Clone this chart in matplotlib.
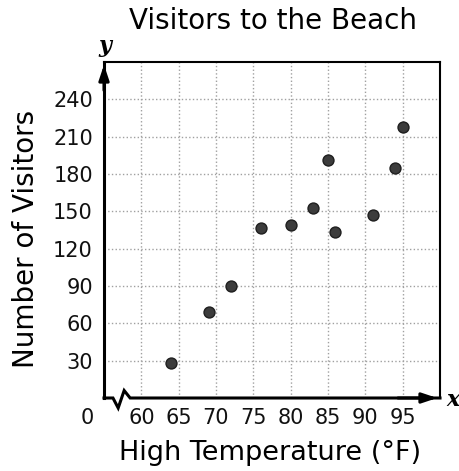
import numpy as np
import matplotlib
matplotlib.use("Agg")
import matplotlib.pyplot as plt

# data
temps = [64, 69, 72, 76, 80, 83, 85, 86, 91, 94, 95]
visitors = [28, 69, 90, 137, 139, 153, 191, 133, 147, 185, 218]

x_ticks = [60, 65, 70, 75, 80, 85, 90, 95]
y_ticks = [30, 60, 90, 120, 150, 180, 210, 240]

plt.rcParams['font.family'] = ['DejaVu Sans']

fig = plt.figure(figsize=(4.6, 4.71), dpi=100)
ax = fig.add_axes([104 / 460, 1 - 398 / 471, (440 - 104) / 460, (398 - 62) / 471])

ax.set_xlim(55, 100)
ax.set_ylim(0, 270)

# dotted grid
for xv in x_ticks:
    ax.axvline(xv, color='#a0a0a0', linestyle=':', lw=1.0, zorder=0)
for yv in y_ticks:
    ax.axhline(yv, color='#a0a0a0', linestyle=':', lw=1.0, zorder=0)

ax.scatter(temps, visitors, s=62, color='#3c3c3c', edgecolor='#1e1e1e', linewidth=1, zorder=3)

ax.set_xticks(x_ticks)
ax.set_yticks(y_ticks)
ax.tick_params(length=0, labelsize=15, colors='#111111')
ax.tick_params(axis='x', pad=7)
ax.tick_params(axis='y', pad=8)

# frame
for side in ['top', 'right']:
    ax.spines[side].set_linewidth(1.5)
ax.spines['left'].set_linewidth(2.2)
ax.spines['bottom'].set_visible(False)

# bottom axis with a break zigzag
zx = [55, 56.2, 56.9, 57.7, 58.5, 100]
zy = [0, 0, -8, 6, 0, 0]
ax.plot(zx, zy, color='k', lw=2.2, clip_on=False, zorder=4, solid_joinstyle='miter')

# arrows
ax.annotate('', xy=(55, 270), xytext=(55, 245),
            arrowprops=dict(arrowstyle='-|>,head_length=0.9,head_width=0.3', lw=2.2, color='k'),
            annotation_clip=False)
ax.annotate('', xy=(100, 0), xytext=(94, 0),
            arrowprops=dict(arrowstyle='-|>,head_length=0.9,head_width=0.3', lw=2.2, color='k'),
            annotation_clip=False)

fig.text(105 / 460, 1 - 46 / 471, 'y', fontsize=16, fontweight='bold', style='italic',
         family='DejaVu Serif', ha='center', va='center')
fig.text(453 / 460, 1 - 400 / 471, 'x', fontsize=16, fontweight='bold', style='italic',
         family='DejaVu Serif', ha='center', va='center')
fig.text(87 / 460, 1 - 418 / 471, '0', fontsize=15, color='#111111', ha='center', va='center')

fig.text(273 / 460, 1 - 29 / 471, 'Visitors to the Beach', fontsize=20, ha='center', va='baseline')
fig.text(270 / 460, 1 - 460 / 471, 'High Temperature (°F)', fontsize=19.5, ha='center', va='baseline')
fig.text(26 / 460, 1 - 239 / 471, 'Number of Visitors', fontsize=20, rotation=90,
         ha='center', va='center')

fig.savefig('out.png', dpi=100)
